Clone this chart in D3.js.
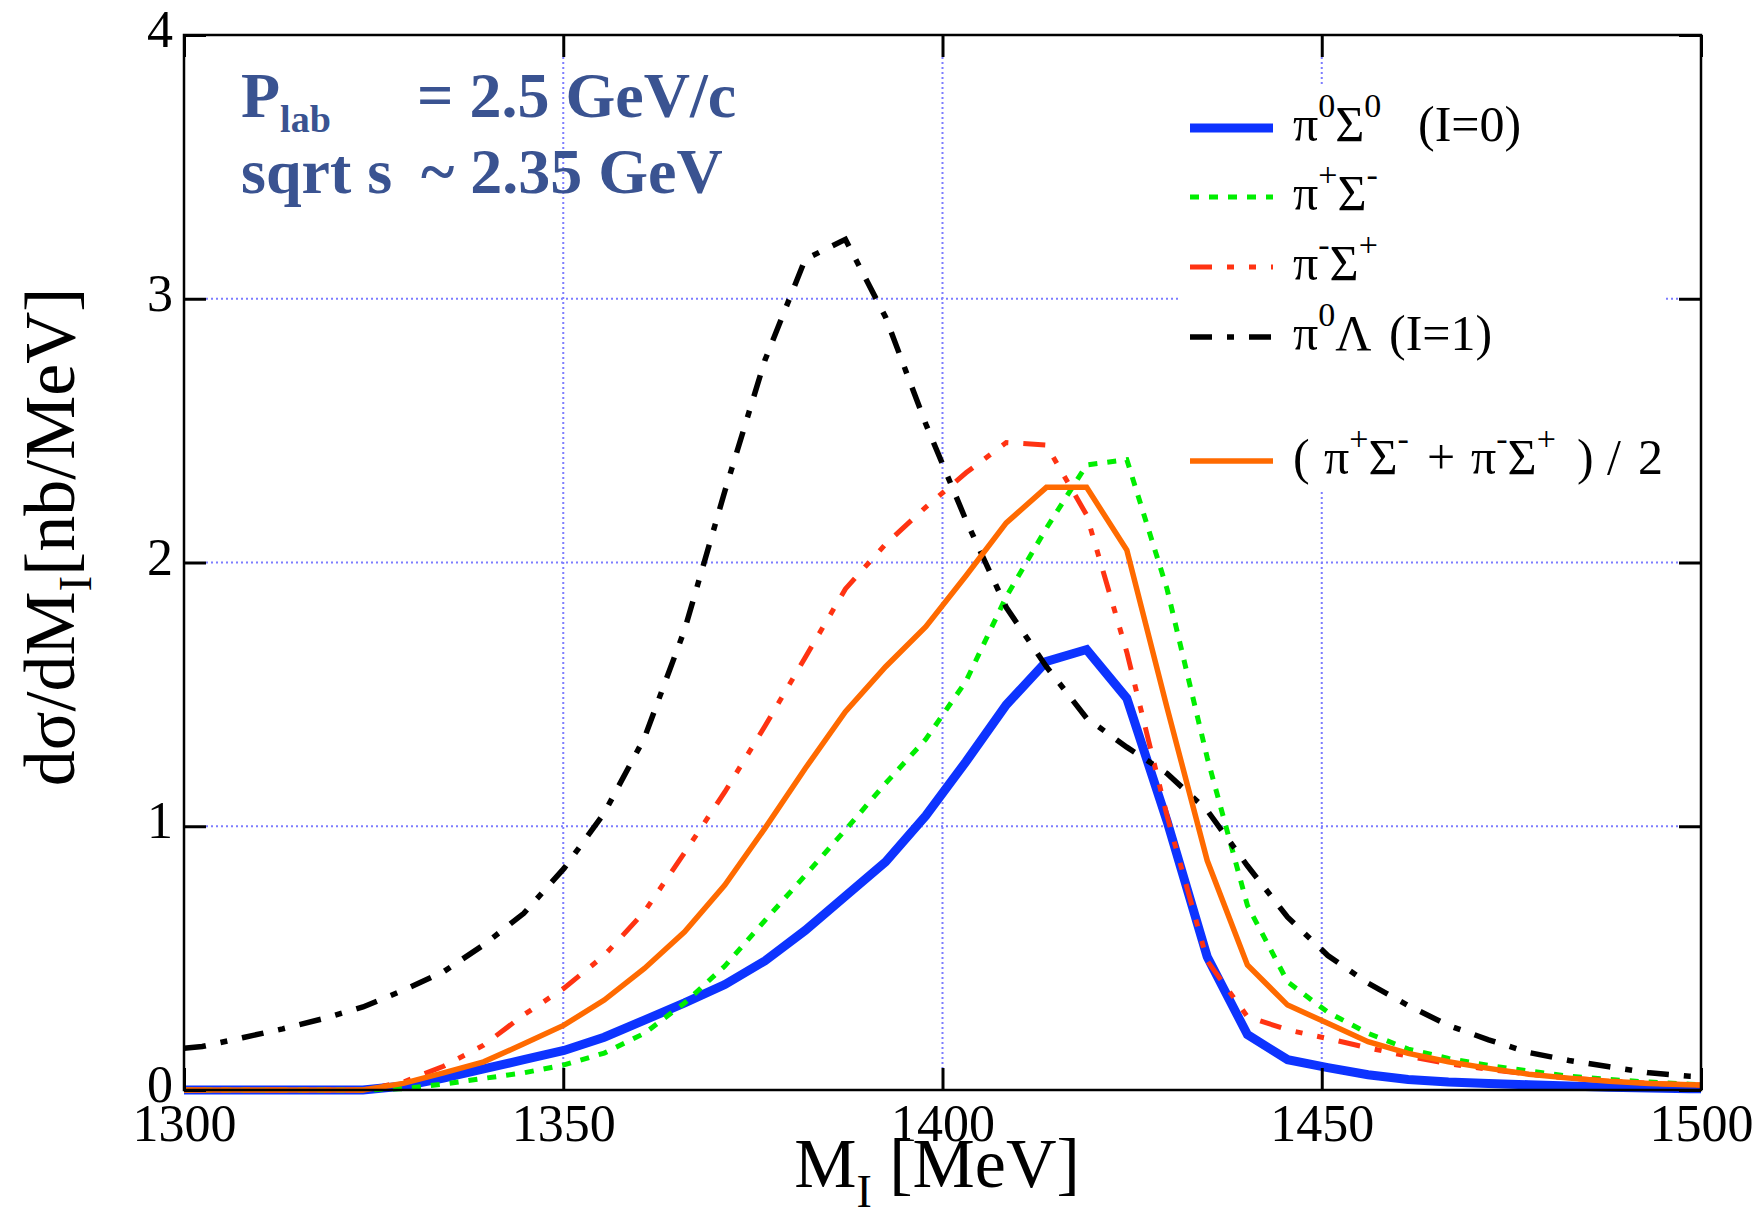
<!DOCTYPE html>
<html><head><meta charset="utf-8">
<script src="https://cdn.jsdelivr.net/npm/d3@7"></script>
<style>body{margin:0;background:#fff}svg{display:block}</style>
</head><body><svg id="c" width="1758" height="1231"></svg>
<script>
// ---- data ----
const massMeV = [1300, 1302.4, 1307.7, 1313.0, 1318.3, 1323.6, 1328.9, 1334.2, 1339.5, 1344.8,
  1350.1, 1355.4, 1360.7, 1366.0, 1371.3, 1376.6, 1381.9, 1387.2, 1392.5, 1397.8,
  1403.1, 1408.4, 1413.7, 1419.0, 1424.3, 1429.6, 1434.9, 1440.2, 1445.5, 1450.8,
  1456.1, 1461.4, 1466.7, 1472.0, 1477.3, 1482.6, 1487.9, 1493.2, 1498.5, 1500];
const pi0Sigma0 = [0, 0, 0, 0, 0, 0, 0.015, 0.045, 0.08, 0.115,
  0.15, 0.2, 0.265, 0.33, 0.40, 0.49, 0.605, 0.735, 0.865, 1.04,
  1.245, 1.46, 1.625, 1.67, 1.485, 1.02, 0.505, 0.21, 0.115, 0.085,
  0.058, 0.04, 0.03, 0.025, 0.02, 0.015, 0.01, 0.008, 0.005, 0.005];
const piPlusSigmaMinus = [0, 0, 0, 0, 0, 0, 0.005, 0.022, 0.044, 0.065,
  0.095, 0.14, 0.215, 0.33, 0.47, 0.643, 0.814, 0.986, 1.163, 1.33,
  1.55, 1.87, 2.13, 2.37, 2.39, 1.9, 1.26, 0.70, 0.41, 0.295,
  0.215, 0.155, 0.12, 0.093, 0.072, 0.052, 0.04, 0.03, 0.022, 0.02];
const piMinusSigmaPlus = [0, 0, 0, 0, 0, 0, 0.03, 0.09, 0.17, 0.285,
  0.386, 0.51, 0.676, 0.9, 1.13, 1.38, 1.64, 1.9, 2.07, 2.21,
  2.34, 2.455, 2.445, 2.18, 1.66, 1.04, 0.49, 0.278, 0.228, 0.195,
  0.16, 0.128, 0.1, 0.078, 0.06, 0.045, 0.035, 0.025, 0.02, 0.018];
const pi0Lambda = [0.158, 0.165, 0.198, 0.232, 0.27, 0.315, 0.378, 0.448, 0.55, 0.67,
  0.84, 1.05, 1.335, 1.745, 2.27, 2.768, 3.15, 3.225, 2.93, 2.525,
  2.16, 1.83, 1.605, 1.41, 1.30, 1.2, 1.06, 0.85, 0.655, 0.51,
  0.405, 0.32, 0.245, 0.19, 0.142, 0.112, 0.088, 0.065, 0.052, 0.05];
const chargedAverage = [0, 0, 0, 0, 0, 0, 0.025, 0.065, 0.107, 0.175,
  0.246, 0.341, 0.461, 0.6, 0.777, 0.993, 1.219, 1.434, 1.605, 1.757,
  1.95, 2.15, 2.285, 2.285, 2.047, 1.45, 0.87, 0.474, 0.322, 0.253,
  0.183, 0.139, 0.107, 0.082, 0.06, 0.045, 0.033, 0.025, 0.02, 0.019];
const xTicks = [1300, 1350, 1400, 1450, 1500];
const yTicks = [0, 1, 2, 3, 4];
const xGrid = [1350, 1400, 1450];
const yGrid = [1, 2, 3];

// ---- layout ----
const svg = d3.select('#c');
svg.append('rect').attr('width',1758).attr('height',1231).attr('fill','#fff');
const L = 184, R = 1701, T = 35, B = 1090, TK = 22;
const x = d3.scaleLinear().domain([1300, 1500]).range([L, R]);
const y = d3.scaleLinear().domain([0, 4]).range([B, T]);
const serif = "'Liberation Serif','Times New Roman',serif";

// grid
const gridStyle = s => s.attr('stroke','#7d7dff').attr('stroke-width',2).attr('stroke-dasharray','2,3');
svg.append('g').selectAll('line').data(xGrid).enter().append('line')
  .attr('x1',d=>x(d)).attr('x2',d=>x(d)).attr('y1',T+TK).attr('y2',B-TK).call(gridStyle);
svg.append('g').selectAll('line').data(yGrid).enter().append('line')
  .attr('y1',d=>y(d)).attr('y2',d=>y(d)).attr('x1',L+TK).attr('x2',R-TK).call(gridStyle);

// legend background
svg.append('rect').attr('x',1180).attr('y',84).attr('width',483).attr('height',406).attr('fill','#fff');

// annotation
const ann = svg.append('g').attr('fill','#3a5391').attr('font-family',serif).attr('font-weight','bold');
const t1 = ann.append('text').attr('x',241).attr('y',117).attr('font-size',64);
t1.append('tspan').text('P');
t1.append('tspan').attr('font-size',38).attr('dy',15).text('lab');
ann.append('text').attr('x',417).attr('y',117).attr('font-size',64).text('= 2.5 GeV/c');
ann.append('text').attr('x',241).attr('y',193).attr('font-size',64).text('sqrt s');
ann.append('text').attr('x',421).attr('y',193).attr('font-size',64).text('~ 2.35 GeV');

// series
const series = [
  {name:'pi0Sigma0', v:pi0Sigma0, color:'#0d33ff', w:9, dash:null},
  {name:'piPlusSigmaMinus', v:piPlusSigmaMinus, color:'#00ee00', w:5, dash:'9,10'},
  {name:'piMinusSigmaPlus', v:piMinusSigmaPlus, color:'#ff3312', w:5, dash:'22,15,7,15,7,15'},
  {name:'pi0Lambda', v:pi0Lambda, color:'#000000', w:5.5, dash:'22,15,7,15'},
  {name:'chargedAverage', v:chargedAverage, color:'#ff6a00', w:5.5, dash:null}
];
const line = d3.line().x(d=>x(d[0])).y(d=>y(d[1]));
svg.append('g').selectAll('path').data(series).enter().append('path')
  .attr('d', s => line(massMeV.map((m,i)=>[m, s.v[i]])))
  .attr('fill','none').attr('stroke',s=>s.color).attr('stroke-width',s=>s.w)
  .attr('stroke-dasharray',s=>s.dash).attr('stroke-linejoin','miter');

// legend
const legendRows = [
  {s:0, y:128, parts:[{t:'π',x:1293},{t:'0',sup:1},{t:'Σ'},{t:'0',sup:1},{t:'(I=0)',x:1418}]},
  {s:1, y:197, parts:[{t:'π',x:1293},{t:'+',sup:1},{t:'Σ'},{t:'-',sup:1}]},
  {s:2, y:267, parts:[{t:'π',x:1293},{t:'-',sup:1},{t:'Σ'},{t:'+',sup:1}]},
  {s:3, y:337, parts:[{t:'π',x:1293},{t:'0',sup:1},{t:'Λ'},{t:'(I=1)',x:1389}]},
  {s:4, y:461, parts:[{t:'(',x:1293},{t:'π',x:1324},{t:'+',sup:1},{t:'Σ'},{t:'-',sup:1},
     {t:'+',x:1427},{t:'π',x:1471},{t:'-',sup:1},{t:'Σ'},{t:'+',sup:1},{t:')',x:1577},{t:'/',x:1607},{t:'2',x:1638}]}
];
const lg = svg.append('g');
legendRows.forEach(r => {
  const s = series[r.s];
  lg.append('line').attr('x1',1190).attr('x2',1273).attr('y1',r.y).attr('y2',r.y)
    .attr('stroke',s.color).attr('stroke-width',s.w).attr('stroke-dasharray',s.dash);
  const tx = lg.append('text').attr('y',r.y+13).attr('font-family',serif).attr('font-size',50).attr('fill','#000');
  let shift = 0;
  r.parts.forEach(p => {
    const ts = tx.append('tspan').text(p.t);
    if (p.x !== undefined) ts.attr('x', p.x);
    const target = p.sup ? -24 : 0;
    if (target !== shift) { ts.attr('dy', target - shift); shift = target; }
    if (p.sup) ts.attr('font-size', 34);
  });
});

// axes
const styleAxis = g => {
  g.select('.domain').remove();
  g.selectAll('.tick line').attr('stroke','#000').attr('stroke-width',3);
  g.selectAll('text').attr('font-family',serif).attr('font-size',52).attr('fill','#000');
};
svg.append('g').attr('transform',`translate(0,${B})`)
  .call(d3.axisBottom(x).tickValues(xTicks).tickSizeInner(-TK).tickSizeOuter(0).tickPadding(14).tickFormat(d3.format('d')))
  .call(styleAxis);
svg.append('g').attr('transform',`translate(0,${T})`)
  .call(d3.axisTop(x).tickValues(xTicks).tickSizeInner(-TK).tickSizeOuter(0).tickFormat(''))
  .call(styleAxis);
const yl = svg.append('g').attr('transform',`translate(${L},0)`)
  .call(d3.axisLeft(y).tickValues(yTicks).tickSizeInner(-TK).tickSizeOuter(0).tickPadding(11).tickFormat(d3.format('d')))
  .call(styleAxis);
yl.selectAll('text').attr('transform','translate(0,-5)');
svg.append('g').attr('transform',`translate(${R},0)`)
  .call(d3.axisRight(y).tickValues(yTicks).tickSizeInner(-TK).tickSizeOuter(0).tickFormat(''))
  .call(styleAxis);

// frame
svg.append('rect').attr('x',L).attr('y',T).attr('width',R-L).attr('height',B-T)
  .attr('fill','none').attr('stroke','#000').attr('stroke-width',2.5);

// axis titles
const xt = svg.append('text').attr('x',937).attr('y',1187).attr('text-anchor','middle')
  .attr('font-family',serif).attr('font-size',70).attr('fill','#000');
xt.append('tspan').text('M');
xt.append('tspan').attr('font-size',46).attr('dy',20).text('I');
xt.append('tspan').attr('dy',-20).text(' [MeV]');

const yt = svg.append('text').attr('transform','translate(74,537) rotate(-90)').attr('text-anchor','middle')
  .attr('font-family',serif).attr('font-size',72).attr('fill','#000');
yt.append('tspan').text('dσ/dM');
yt.append('tspan').attr('font-size',47).attr('dy',17).text('I');
yt.append('tspan').attr('dy',-17).text('[nb/MeV]');
</script></body></html>
